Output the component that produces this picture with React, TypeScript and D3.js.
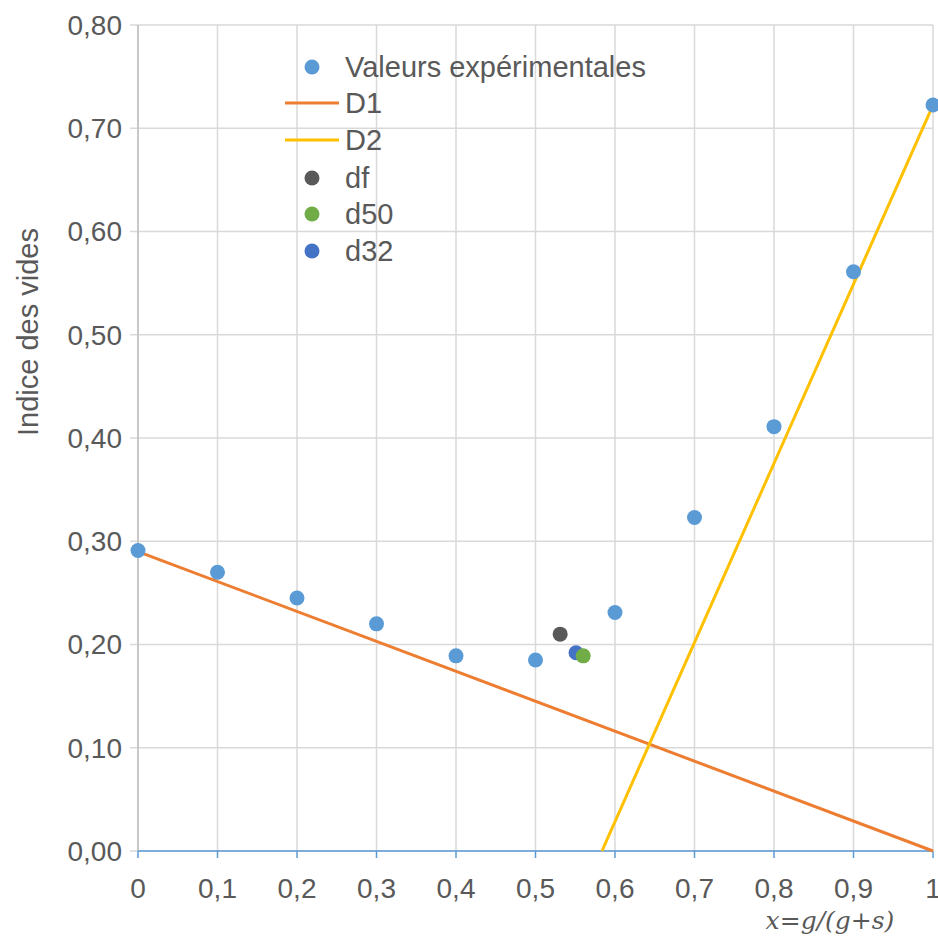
import React from "react";
import * as d3 from "d3";

const expX = [0, 0.1, 0.2, 0.3, 0.4, 0.5, 0.6, 0.7, 0.8, 0.9, 1.0];
const expY = [0.291, 0.270, 0.245, 0.220, 0.189, 0.185, 0.231, 0.323, 0.411, 0.561, 0.7225];
const d1X = [0, 1];
const d1Y = [0.29, 0];
const d2X = [0.5836, 1];
const d2Y = [0, 0.7225];
const dfPt = [0.531, 0.21];
const d50Pt = [0.56, 0.189];
const d32Pt = [0.551, 0.192];
const xTicks = [0, 0.1, 0.2, 0.3, 0.4, 0.5, 0.6, 0.7, 0.8, 0.9, 1];
const yTicks = [0, 0.1, 0.2, 0.3, 0.4, 0.5, 0.6, 0.7, 0.8];

const W = 938, H = 940;
const L = 138, R = 933, T = 25, B = 851;

export default function App() {
  const x = d3.scaleLinear().domain([0, 1]).range([L, R]);
  const y = d3.scaleLinear().domain([0, 0.8]).range([B, T]);
  const line = d3.line<[number, number]>().x(d => x(d[0])).y(d => y(d[1]));
  const fmtX = (v: number) => (v === 0 ? "0" : v === 1 ? "1" : d3.format(".1f")(v).replace(".", ","));
  const fmtY = (v: number) => d3.format(".2f")(v).replace(".", ",");
  const txt = "#595959";
  const font = "Liberation Sans, Arial, sans-serif";
  const legend = [
    { type: "dot", color: "#5b9bd5", label: "Valeurs expérimentales" },
    { type: "line", color: "#ed7d31", label: "D1" },
    { type: "line", color: "#ffc000", label: "D2" },
    { type: "dot", color: "#595959", label: "df" },
    { type: "dot", color: "#70ad47", label: "d50" },
    { type: "dot", color: "#4472c4", label: "d32" },
  ];
  const legY = [67, 103, 140, 178, 214, 251];
  return (
    <div style={{ position: "absolute", left: 0, top: 0 }}>
      <svg width={W} height={H} style={{ display: "block", background: "#fff" }} fontFamily={font}>
        {xTicks.map((t, i) => (
          <line key={"gx" + i} x1={x(t)} x2={x(t)} y1={T} y2={B} stroke="#d9d9d9" strokeWidth={1.5} />
        ))}
        {yTicks.map((t, i) => (
          <line key={"gy" + i} x1={L - 8} x2={R} y1={y(t)} y2={y(t)} stroke="#d9d9d9" strokeWidth={1.5} />
        ))}
        <line x1={L} x2={L} y1={T} y2={B} stroke="#bfbfbf" strokeWidth={1.5} />
        <line x1={L} x2={R} y1={B} y2={B} stroke="#5b9bd5" strokeWidth={1.5} />
        {xTicks.map((t, i) => (
          <line key={"tx" + i} x1={x(t)} x2={x(t)} y1={B} y2={B + 7} stroke="#5b9bd5" strokeWidth={1.5} />
        ))}
        {yTicks.map((t, i) => (
          <text key={"ly" + i} x={122} y={y(t)} dy="0.35em" textAnchor="end" fontSize={28} fill={txt}>
            {fmtY(t)}
          </text>
        ))}
        {xTicks.map((t, i) => (
          <text key={"lx" + i} x={x(t)} y={888} dy="0.35em" textAnchor="middle" fontSize={28} fill={txt}>
            {fmtX(t)}
          </text>
        ))}
        <text transform={`translate(28,332) rotate(-90)`} textAnchor="middle" dy="0.35em" fontSize={29} fill={txt}>
          Indice des vides
        </text>
        <text x={830} y={920} dy="0.35em" textAnchor="middle" fontSize={25} fill={txt} fontFamily="DejaVu Serif, Liberation Serif, serif" fontStyle="italic">
          x=g/(g+s)
        </text>
        <path d={line(d1X.map((v, i) => [v, d1Y[i]] as [number, number])) || ""} stroke="#ed7d31" strokeWidth={3} fill="none" />
        <path d={line(d2X.map((v, i) => [v, d2Y[i]] as [number, number])) || ""} stroke="#ffc000" strokeWidth={3} fill="none" />
        {expX.map((v, i) => (
          <circle key={"p" + i} cx={x(v)} cy={y(expY[i])} r={7.5} fill="#5b9bd5" />
        ))}
        <circle cx={x(dfPt[0])} cy={y(dfPt[1])} r={7.5} fill="#595959" />
        <circle cx={x(d32Pt[0])} cy={y(d32Pt[1])} r={7.5} fill="#4472c4" />
        <circle cx={x(d50Pt[0])} cy={y(d50Pt[1])} r={7.5} fill="#70ad47" />
        {legend.map((l, i) => (
          <g key={"lg" + i}>
            {l.type === "dot" ? (
              <circle cx={312} cy={legY[i]} r={7.5} fill={l.color} />
            ) : (
              <line x1={285} x2={339} y1={legY[i]} y2={legY[i]} stroke={l.color} strokeWidth={3} />
            )}
            <text x={345} y={legY[i]} dy="0.35em" fontSize={29} fill={txt}>
              {l.label}
            </text>
          </g>
        ))}
      </svg>
    </div>
  );
}
